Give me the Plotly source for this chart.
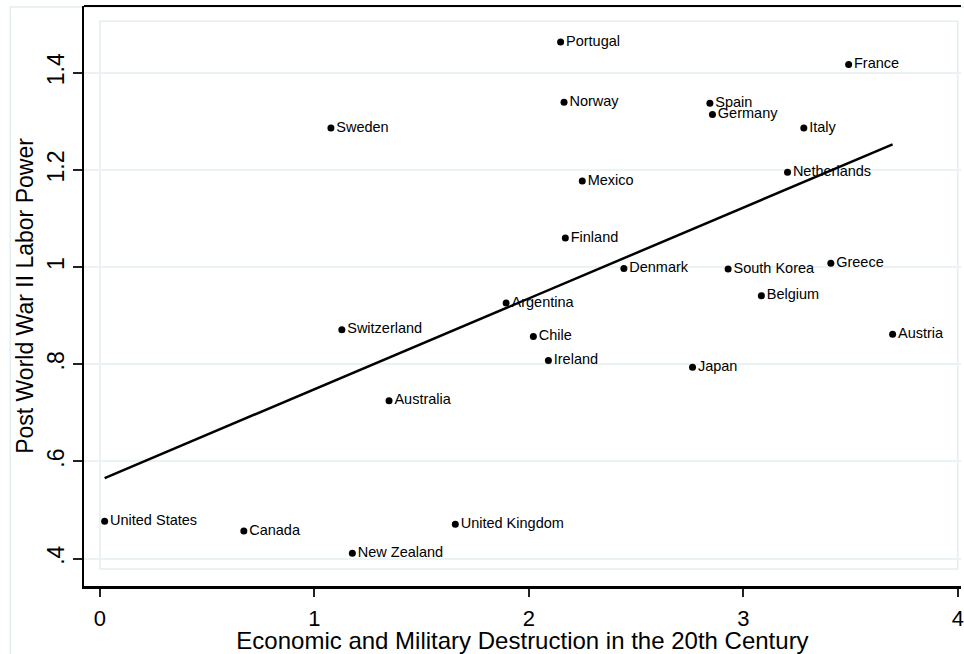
import numpy as np
import plotly.graph_objects as go

countries = ["Portugal", "France", "Norway", "Spain", "Germany", "Sweden", "Italy",
             "Netherlands", "Mexico", "Finland", "Greece", "Denmark", "South Korea",
             "Belgium", "Argentina", "Switzerland", "Austria", "Chile", "Ireland",
             "Japan", "Australia", "United States", "United Kingdom", "Canada",
             "New Zealand"]
destruction = [2.148, 3.491, 2.164, 2.844, 2.856, 1.077, 3.282, 3.206, 2.249, 2.170,
               3.408, 2.443, 2.929, 3.084, 1.894, 1.128, 3.696, 2.021, 2.091, 2.763,
               1.348, 0.022, 1.657, 0.671, 1.177]
labor_power = [1.463, 1.417, 1.339, 1.337, 1.314, 1.286, 1.286, 1.195, 1.177, 1.060,
               1.008, 0.997, 0.996, 0.941, 0.926, 0.871, 0.862, 0.857, 0.808, 0.794,
               0.725, 0.477, 0.471, 0.457, 0.411]

x_ticks = [0, 1, 2, 3, 4]
x_tick_labels = ["0", "1", "2", "3", "4"]
y_ticks = [0.4, 0.6, 0.8, 1.0, 1.2, 1.4]
y_tick_labels = [".4", ".6", ".8", "1", "1.2", "1.4"]

x_title = "Economic and Military Destruction in the 20th Century"
y_title = "Post World War II Labor Power"

# linear fit
slope, intercept = np.polyfit(destruction, labor_power, 1)
fit_x = [min(destruction), max(destruction)]
fit_y = [intercept + slope * v for v in fit_x]

FONT = "Liberation Sans, Arial, sans-serif"

fig = go.Figure()
fig.add_trace(go.Scatter(
    x=fit_x, y=fit_y, mode="lines",
    line=dict(color="black", width=2.5),
    hoverinfo="skip", showlegend=False,
))
fig.add_trace(go.Scatter(
    x=destruction, y=labor_power, mode="markers+text",
    marker=dict(color="black", size=7),
    text=countries, textposition="middle right",
    textfont=dict(family=FONT, size=14.5, color="black"),
    cliponaxis=False, showlegend=False,
))

fig.update_layout(
    width=964, height=654,
    margin=dict(l=84, r=0, t=6, b=68, pad=0),
    plot_bgcolor="white", paper_bgcolor="white",
    font=dict(family=FONT, color="black"),
    showlegend=False,
    xaxis=dict(
        range=[-0.0743, 4.0149], showgrid=False, zeroline=False,
        showline=True, linecolor="black", linewidth=2.5,
        ticks="outside", ticklen=8, tickwidth=1.5, tickcolor="#222",
        tickvals=x_ticks, ticktext=x_tick_labels, ticklabeloverflow="allow",
        ticklabelstandoff=3,
        tickfont=dict(size=22, family=FONT, color="black"),
        title=dict(text=x_title, font=dict(size=24, family=FONT, color="black"), standoff=0),
    ),
    yaxis=dict(
        range=[0.3438, 1.5372], showgrid=True, gridcolor="#EAF2F3", gridwidth=2,
        zeroline=False, showline=True, linecolor="black", linewidth=2,
        ticks="outside", ticklen=9, tickwidth=1.5, tickcolor="#222",
        tickvals=y_ticks, ticktext=y_tick_labels, tickangle=-90,
        tickfont=dict(size=23, family=FONT, color="black"),
        title=dict(text=y_title, font=dict(size=23, family=FONT, color="black"), standoff=3),
    ),
    shapes=[
        # top frame line
        dict(type="line", xref="paper", yref="paper", x0=0, x1=1, y0=1, y1=1,
             line=dict(color="black", width=2)),
        # inner plot-region box
        dict(type="rect", xref="x", yref="y", x0=0, x1=4.0, y0=0.379, y1=1.506,
             line=dict(color="#E4EDF0", width=1.5), layer="below"),
        # outer graph-region border
        dict(type="path", xref="paper", yref="paper",
             path="M -0.0841,-0.14 L -0.0841,0.9983 L 1.02,0.9983",
             line=dict(color="#E4EDF0", width=1.5), layer="below"),
    ],
)

fig.write_html("out.html", config={"displayModeBar": False},
               post_script="document.body.style.margin='0';")
